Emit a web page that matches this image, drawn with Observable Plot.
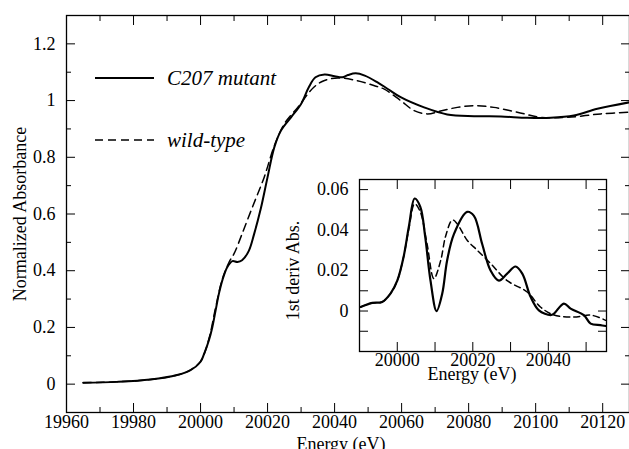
<!DOCTYPE html>
<html><head><meta charset="utf-8">
<script src="https://cdn.jsdelivr.net/npm/d3@7"></script>
<script src="https://cdn.jsdelivr.net/npm/@observablehq/plot@0.6"></script>
<style>
body{margin:0;background:#fff;}
#wrap{position:relative;width:629px;height:449px;overflow:hidden;font-family:'Liberation Serif','Times New Roman',Times,'DejaVu Serif',serif;background:#fff;}
#wrap svg{position:absolute;}
#wrap svg, #wrap svg text{font-family:'Liberation Serif','Times New Roman',Times,'DejaVu Serif',serif !important;}
</style></head><body><div id="wrap"></div>
<script>
// ---- Main panel data (Energy eV, normalized absorbance) ----
const mutantE = [19965,19975,19985,19993,19997,20000,20001,20002.5,20003.5,20004.5,20005.5,20006.5,20008,20009.5,20011,20012.4,20014.4,20016,20018,20020,20022,20024,20027,20030,20032.3,20034.3,20037,20040,20042.3,20044,20046.3,20049,20052.7,20056,20059.7,20066.7,20073.6,20081.6,20089.6,20097.5,20104.5,20111.4,20118.4,20128];
const mutantA = [0.005,0.008,0.016,0.032,0.049,0.079,0.105,0.155,0.20,0.26,0.32,0.366,0.413,0.434,0.431,0.437,0.47,0.53,0.62,0.73,0.835,0.894,0.941,0.988,1.047,1.082,1.092,1.086,1.082,1.09,1.096,1.088,1.065,1.04,1.012,0.976,0.951,0.945,0.944,0.939,0.939,0.947,0.971,0.994];
const wildE = [19965,19975,19985,19993,19997,20000,20002.5,20004.5,20006.5,20008.5,20010,20012.4,20015.5,20019,20022,20025,20029,20033.8,20036.8,20041,20046.8,20051.7,20054.7,20059.7,20063.7,20067.7,20071.6,20076.6,20081.6,20087.5,20094.5,20101.5,20109.5,20119.4,20128];
const wildA = [0.005,0.008,0.016,0.032,0.05,0.08,0.16,0.27,0.37,0.43,0.46,0.53,0.625,0.73,0.84,0.918,0.976,1.047,1.07,1.08,1.07,1.053,1.041,1.0,0.965,0.953,0.963,0.976,0.982,0.976,0.959,0.941,0.941,0.953,0.959];

// ---- Inset data (Energy eV, first derivative) ----
const dMutE = [19990.3,19993.4,19996,19998.2,20000,20001.7,20003.1,20004.6,20006.1,20007.4,20008.8,20010.4,20011.9,20013.2,20015,20018.5,20020.3,20022.5,20024.7,20026.9,20029.1,20031.3,20033.1,20035.3,20037.5,20040.6,20041.5,20044.1,20045.9,20049.4,20051.2,20053.8,20055.2];
const dMutV = [0.002,0.004,0.0045,0.0086,0.015,0.027,0.042,0.0556,0.0515,0.0366,0.015,0.0,0.0086,0.025,0.038,0.049,0.047,0.033,0.020,0.015,0.0185,0.022,0.0185,0.007,0.0003,-0.002,-0.0013,0.0037,0.0012,-0.002,-0.0062,-0.007,-0.0074];
const dWildE = [19990.3,19993.4,19996,19998.2,20000,20001.7,20003.1,20004.6,20006.1,20007.9,20009.7,20011.5,20012.8,20014.6,20015.9,20018.5,20021.2,20024.7,20029.1,20034.4,20037.9,20041.5,20046.8,20051.2,20055.2];
const dWildV = [0.002,0.004,0.0045,0.0086,0.015,0.027,0.041,0.053,0.049,0.033,0.016,0.025,0.037,0.045,0.043,0.035,0.030,0.0235,0.015,0.0094,0.002,-0.002,-0.003,-0.002,-0.0046];

// ---- Ticks / labels ----
const xMajor = [19960,19980,20000,20020,20040,20060,20080,20100,20120];
const xMinor = [19970,19990,20010,20030,20050,20070,20090,20110];
const yMajor = [0,0.2,0.4,0.6,0.8,1,1.2];
const yMinor = [0.1,0.3,0.5,0.7,0.9,1.1];
const ixMajor = [20000,20020,20040];
const ixMinor = [20010,20030,20050];
const iyMajor = [0,0.02,0.04,0.06];
const iyMinor = [-0.01,0.01,0.03,0.05];
const seriesNames = ["C207 mutant","wild-type"];
const xLabel = "Energy (eV)";
const yLabel = "Normalized Absorbance";
const iyLabel = "1st deriv Abs.";

const FONT = "'Liberation Serif','Times New Roman',Times,'DejaVu Serif',serif";
const toRows = (E, V) => E.map((e, i) => ({e, v: V[i]}));
const mutant = toRows(mutantE, mutantA);
const wild = toRows(wildE, wildA);
const dMut = toRows(dMutE, dMutV);
const dWild = toRows(dWildE, dWildV);
const blank = () => "";
const fmt = d => String(d);

const main = Plot.plot({
  width: 629, height: 449,
  marginLeft: 66, marginRight: 0, marginTop: 15, marginBottom: 37,
  x: {domain: [19960, 20128], label: null},
  y: {domain: [-0.1, 1.3], label: null},
  style: {fontFamily: FONT, fontSize: "18px", color: "black", background: "white"},
  marks: [
    Plot.frame({stroke: "black", strokeWidth: 1.3}),
    Plot.axisX({anchor: "bottom", ticks: xMajor, tickSize: -9, tickPadding: 12, tickFormat: fmt, fontSize: 18, label: null}),
    Plot.axisX({anchor: "bottom", ticks: xMinor, tickSize: -5, tickFormat: blank, label: null}),
    Plot.axisX({anchor: "top", ticks: xMajor, tickSize: -9, tickFormat: blank, label: null}),
    Plot.axisX({anchor: "top", ticks: xMinor, tickSize: -5, tickFormat: blank, label: null}),
    Plot.axisY({anchor: "left", ticks: yMajor, tickSize: -9, tickPadding: 20, tickFormat: fmt, fontSize: 18, label: null}),
    Plot.axisY({anchor: "left", ticks: yMinor, tickSize: -5, tickFormat: blank, label: null}),
    Plot.axisY({anchor: "right", ticks: yMajor, tickSize: -9, tickFormat: blank, label: null}),
    Plot.axisY({anchor: "right", ticks: yMinor, tickSize: -5, tickFormat: blank, label: null}),
    Plot.line(mutant, {x: "e", y: "v", stroke: "black", strokeWidth: 2, curve: "catmull-rom", clip: true}),
    Plot.line(wild, {x: "e", y: "v", stroke: "black", strokeWidth: 1.5, strokeDasharray: "8,5", curve: "catmull-rom", clip: true}),
    Plot.text([xLabel], {frameAnchor: "bottom", dy: 32, dx: -7, textAnchor: "middle", lineAnchor: "middle", fontSize: 18, fill: "black"}),
    Plot.text([yLabel], {frameAnchor: "left", dx: -46, rotate: -90, textAnchor: "middle", lineAnchor: "middle", fontSize: 18, fill: "black"})
  ]
});

const inset = Plot.plot({
  width: 330, height: 215,
  marginLeft: 79, marginRight: 4, marginTop: 9, marginBottom: 34,
  x: {domain: [19990, 20055.4], label: null},
  y: {domain: [-0.02, 0.065], label: null},
  style: {fontFamily: FONT, fontSize: "18px", color: "black", background: "transparent"},
  marks: [
    Plot.frame({stroke: "black", strokeWidth: 1.3}),
    Plot.axisX({anchor: "bottom", ticks: ixMajor, tickSize: -9, tickPadding: 11, tickFormat: fmt, fontSize: 18, label: null}),
    Plot.axisX({anchor: "bottom", ticks: ixMinor, tickSize: -9, tickFormat: blank, label: null}),
    Plot.axisX({anchor: "top", ticks: ixMajor.concat(ixMinor), tickSize: -9, tickFormat: blank, label: null}),
    Plot.axisY({anchor: "left", ticks: iyMajor, tickSize: -9, tickPadding: 20, tickFormat: fmt, fontSize: 18, label: null}),
    Plot.axisY({anchor: "left", ticks: iyMinor, tickSize: -9, tickFormat: blank, label: null}),
    Plot.axisY({anchor: "right", ticks: iyMajor.concat(iyMinor), tickSize: -9, tickFormat: blank, label: null}),
    Plot.line(dMut, {x: "e", y: "v", stroke: "black", strokeWidth: 2.2, curve: "catmull-rom", clip: true}),
    Plot.line(dWild, {x: "e", y: "v", stroke: "black", strokeWidth: 1.5, strokeDasharray: "6,4", curve: "catmull-rom", clip: true}),
    Plot.text([xLabel], {frameAnchor: "bottom", dy: 23, dx: -11, textAnchor: "middle", lineAnchor: "middle", fontSize: 18, fill: "black"}),
    Plot.text([iyLabel], {frameAnchor: "left", dx: -66, dy: 5, rotate: -90, textAnchor: "middle", lineAnchor: "middle", fontSize: 18, fill: "black"})
  ]
});

const wrap = document.getElementById("wrap");
main.style.left = "0px"; main.style.top = "0px";
inset.style.left = "280px"; inset.style.top = "170px";
wrap.appendChild(main);
wrap.appendChild(inset);

// Legend
const ns = "http://www.w3.org/2000/svg";
const leg = document.createElementNS(ns, "svg");
leg.setAttribute("width", 300); leg.setAttribute("height", 160);
leg.style.left = "0px"; leg.style.top = "0px";
const styles = [{dash: null, w: 2, y: 78}, {dash: "8,5", w: 1.5, y: 140}];
seriesNames.forEach((name, i) => {
  const s = styles[i];
  const ln = document.createElementNS(ns, "line");
  ln.setAttribute("x1", 95); ln.setAttribute("x2", 154);
  ln.setAttribute("y1", s.y); ln.setAttribute("y2", s.y);
  ln.setAttribute("stroke", "black"); ln.setAttribute("stroke-width", s.w);
  if (s.dash) ln.setAttribute("stroke-dasharray", s.dash);
  leg.appendChild(ln);
  const t = document.createElementNS(ns, "text");
  t.setAttribute("x", 167); t.setAttribute("y", s.y + 7);
  t.style.fontFamily = FONT;
  t.style.fontStyle = "italic";
  t.style.fontSize = "21px";
  t.textContent = name;
  leg.appendChild(t);
});
wrap.appendChild(leg);
</script></body></html>
